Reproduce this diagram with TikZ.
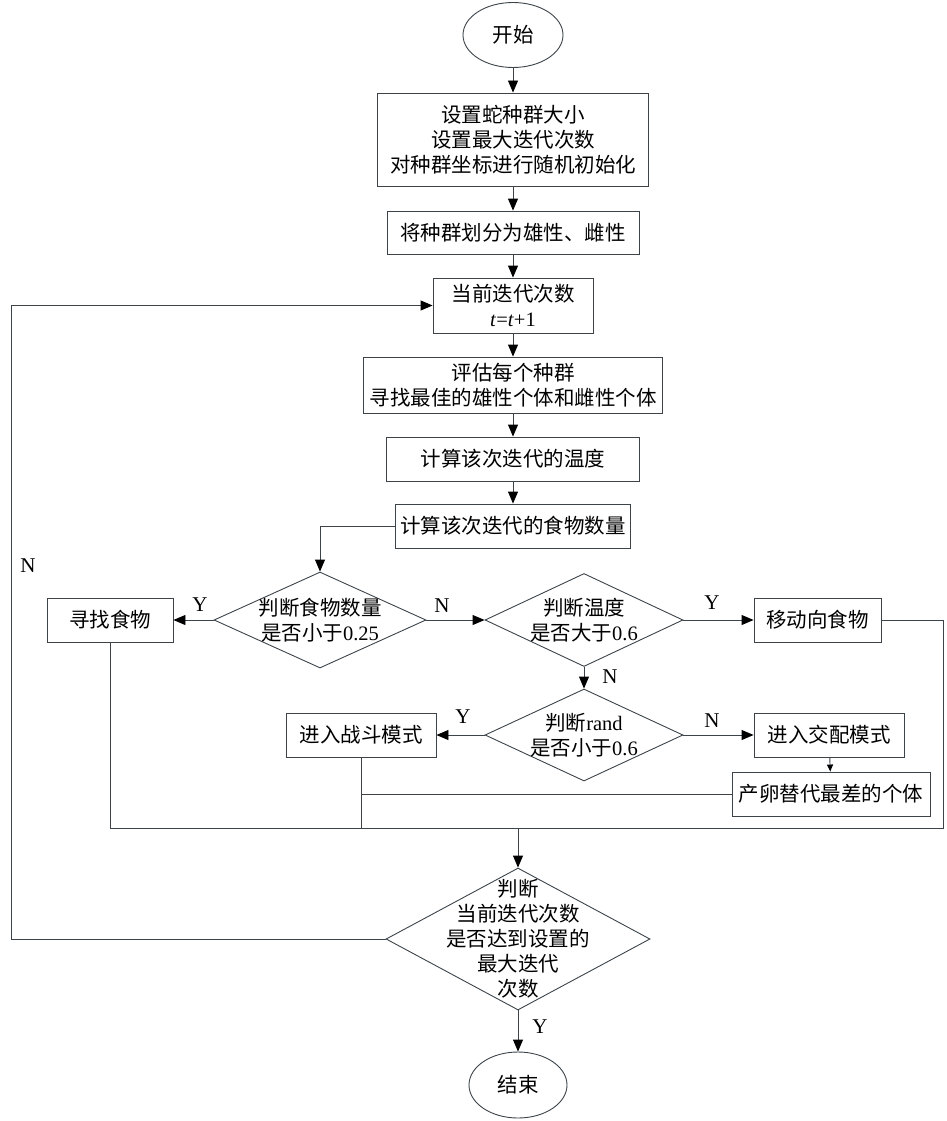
\documentclass[tikz,border=0pt]{standalone}
\usepackage{fontspec}
\setmainfont{Liberation Serif}
\newfontfamily\cjk{Noto Sans CJK SC}
\usetikzlibrary{shapes.geometric, arrows.meta, positioning}
\definecolor{edgegray}{RGB}{60, 68, 74}
\newcommand{\lat}[1]{{\rmfamily #1}}

\begin{document}
\begin{tikzpicture}[x=1pt, y=-1pt,
  every node/.style={font=\cjk\fontsize{20.5}{25}\selectfont, align=center},
  proc/.style={draw=edgegray, line width=0.9pt, rectangle, inner sep=0pt},
  term/.style={draw=edgegray, line width=0.9pt, ellipse, inner sep=0pt},
  decision/.style={draw=edgegray, line width=0.9pt, diamond, inner sep=0pt},
  flow/.style={draw=edgegray, line width=0.9pt, -{Triangle[length=12pt, width=10pt, black]}},
  smallflow/.style={draw=edgegray, line width=0.9pt, -{Triangle[length=7pt, width=6pt, black]}},
  wire/.style={draw=edgegray, line width=0.9pt},
  yn/.style={font=\rmfamily\fontsize{21}{24}\selectfont}]
  \useasboundingbox (0, 0) rectangle (946, 1121);

  % Start and setup
  \node[term, minimum width=100pt, minimum height=65pt] (start) at (513, 35) {开始};
  \node[proc, minimum width=271pt, minimum height=93pt] (init) at (513, 139.5) {设置蛇种群大小\\设置最大迭代次数\\对种群坐标进行随机初始化};
  \node[proc, minimum width=252pt, minimum height=43pt] (split) at (513, 232.5) {将种群划分为雄性、雌性};
  \node[proc, minimum width=160pt, minimum height=55pt] (iter) at (513, 305.5) {当前迭代次数\\\lat{\textit{t}=\textit{t}+1}};
  \node[proc, minimum width=299pt, minimum height=56pt] (evalpop) at (513, 385) {评估每个种群\\寻找最佳的雄性个体和雌性个体};
  \node[proc, minimum width=253pt, minimum height=44pt] (temp) at (513, 459) {计算该次迭代的温度};
  \node[proc, minimum width=235pt, minimum height=44pt] (food) at (513, 526) {计算该次迭代的食物数量};

  % Food and temperature checks
  \node[decision, minimum width=212pt, minimum height=96pt, label={center:判断食物数量\\是否小于\lat{0.25}}] (qfood) at (320, 620) {};
  \node[proc, minimum width=126pt, minimum height=44pt] (seek) at (110, 620) {寻找食物};
  \node[decision, minimum width=198pt, minimum height=93pt, label={center:判断温度\\是否大于\lat{0.6}}] (qtemp) at (584, 620) {};
  \node[proc, minimum width=127pt, minimum height=44pt] (move) at (817.5, 620) {移动向食物};

  % Fight or mate
  \node[decision, minimum width=198pt, minimum height=92pt, label={center:判断\lat{rand}\\是否小于\lat{0.6}}] (qrand) at (584, 735) {};
  \node[proc, minimum width=150pt, minimum height=44pt] (fight) at (361, 735) {进入战斗模式};
  \node[proc, minimum width=150pt, minimum height=44pt] (mate) at (829, 735) {进入交配模式};
  \node[proc, minimum width=198pt, minimum height=44pt] (egg) at (831, 794) {产卵替代最差的个体};

  % Termination check
  \node[decision, minimum width=264pt, minimum height=142pt, label={center:判断\\当前迭代次数\\是否达到设置的\\最大迭代\\次数}] (qend) at (518, 939) {};
  \node[term, minimum width=98pt, minimum height=66pt] (stop) at (518, 1085) {结束};

  % Branch labels
  \node[yn] (yfood) at (200, 605) {Y};
  \node[yn] (nfood) at (442, 606) {N};
  \node[yn] (ytemp) at (712, 603) {Y};
  \node[yn] (ntemp) at (610, 677) {N};
  \node[yn] (yrand) at (463, 717) {Y};
  \node[yn] (nrand) at (712, 721) {N};
  \node[yn] (nend) at (28, 566) {N};
  \node[yn] (yend) at (540, 1027) {Y};

  % Bends
  \coordinate (loop) at (11, 305.5);
  \coordinate (busR) at (943, 828);

  % Main column
  \draw[flow] (start) -- (init);
  \draw[flow] (init) -- (split);
  \draw[flow] (split) -- (iter);
  \draw[flow] (iter) -- (evalpop);
  \draw[flow] (evalpop) -- (temp);
  \draw[flow] (temp) -- (food);
  \draw[flow] (food.west) -| (qfood.north);

  % Branches
  \draw[flow] (qfood.west) -- (seek.east);
  \draw[flow] (qfood.east) -- (qtemp.west);
  \draw[flow] (qtemp.east) -- (move.west);
  \draw[flow] (qtemp.south) -- (qrand.north);
  \draw[flow] (qrand.west) -- (fight.east);
  \draw[flow] (qrand.east) -- (mate.west);
  \draw[smallflow] (mate) -- (egg);

  % Merge back
  \draw[wire] (seek.south) |- (busR) |- (move.east);
  \draw[wire] (fight.south) -- (fight.south |- busR);
  \draw[wire] (egg.west) -- (egg.west -| fight.south);
  \draw[flow] (qend.north |- busR) -- (qend.north);
  \draw[flow] (qend.west) -| (loop) -- (iter.west);
  \draw[flow] (qend.south) -- (stop.north);
\end{tikzpicture}
\end{document}
